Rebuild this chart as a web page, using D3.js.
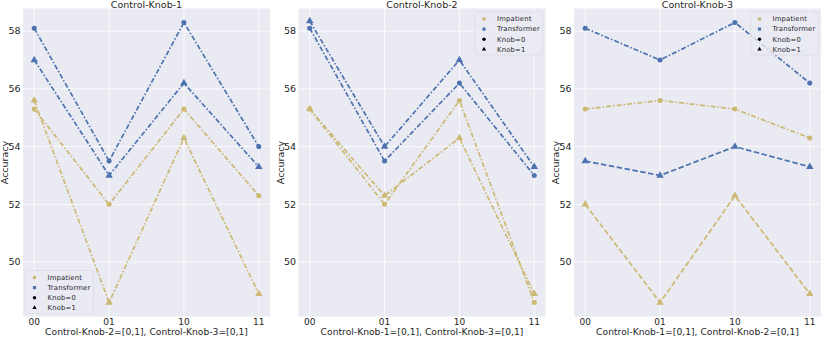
<!DOCTYPE html>
<html>
<head>
<meta charset="utf-8">
<script src="https://cdn.jsdelivr.net/npm/d3@7"></script>
<style>
  body { margin: 0; background: #fff; }
  text { font-family: "DejaVu Sans", sans-serif; fill: #262626; }
</style>
</head>
<body>
<div id="chart"></div>
<script>
// tick labels and panel text
const xTicks = ["00", "01", "10", "11"];
const yTicks = [50, 52, 54, 56, 58];
const titles = ["Control-Knob-1", "Control-Knob-2", "Control-Knob-3"];
const xTitles = [
  "Control-Knob-2=[0,1], Control-Knob-3=[0,1]",
  "Control-Knob-1=[0,1], Control-Knob-3=[0,1]",
  "Control-Knob-1=[0,1], Control-Knob-2=[0,1]"
];

// accuracy values, one array per model / knob value / panel
const impKnob0 = [
  [55.3, 52.0, 55.3, 52.3],
  [55.3, 52.0, 55.6, 48.6],
  [55.3, 55.6, 55.3, 54.3]
];
const impKnob1 = [
  [55.6, 48.6, 54.3, 48.9],
  [55.3, 52.3, 54.3, 48.9],
  [52.0, 48.6, 52.3, 48.9]
];
const trfKnob0 = [
  [58.1, 53.5, 58.3, 54.0],
  [58.1, 53.5, 56.2, 53.0],
  [58.1, 57.0, 58.3, 56.2]
];
const trfKnob1 = [
  [57.0, 53.0, 56.2, 53.3],
  [58.35, 54.0, 57.0, 53.3],
  [53.5, 53.0, 54.0, 53.3]
];

const width = 822, height = 337;
const gold = "#ccb974", blue = "#4c72b0";
const dashDot = "5,2,1.5,2", dashed = "5.5,2.5";
const panelW = 247, plotTop = 8.5, plotBottom = 316.5;
const lefts = [23, 298.5, 574];
const knob1Dash = [dashDot, dashDot, dashed];
const legendAt = ["bottomleft", "topright", "topright"];

const svg = d3.select("#chart").append("svg")
  .attr("width", width)
  .attr("height", height);

const y = d3.scaleLinear().domain([48.115, 58.785]).range([plotBottom, plotTop]);

titles.forEach((title, p) => {
  const L = lefts[p];
  const x = d3.scaleLinear().domain([-0.15, 3.15]).range([L, L + panelW]);
  const g = svg.append("g");

  g.append("rect")
    .attr("x", L).attr("y", plotTop)
    .attr("width", panelW).attr("height", plotBottom - plotTop)
    .attr("fill", "#eaeaf2");

  // grid
  g.selectAll(".gy").data(yTicks).enter().append("line")
    .attr("x1", L).attr("x2", L + panelW)
    .attr("y1", d => y(d)).attr("y2", d => y(d))
    .attr("stroke", "#fff").attr("stroke-width", 0.8);
  g.selectAll(".gx").data(xTicks).enter().append("line")
    .attr("x1", (d, i) => x(i)).attr("x2", (d, i) => x(i))
    .attr("y1", plotTop).attr("y2", plotBottom)
    .attr("stroke", "#fff").attr("stroke-width", 0.8);

  // tick labels
  g.selectAll(".ty").data(yTicks).enter().append("text")
    .attr("x", L - 2.5).attr("y", d => y(d))
    .attr("text-anchor", "end").attr("dy", "0.35em")
    .attr("font-size", 9.5).attr("fill", "#3a3a3a").text(d => d);
  g.selectAll(".tx").data(xTicks).enter().append("text")
    .attr("x", (d, i) => x(i)).attr("y", 325)
    .attr("text-anchor", "middle")
    .attr("font-size", 9).attr("fill", "#3a3a3a").text(d => d);

  g.append("text")
    .attr("x", L + panelW / 2).attr("y", 335)
    .attr("text-anchor", "middle").attr("font-size", 9.2)
    .text(xTitles[p]);
  g.append("text")
    .attr("x", L + panelW / 2).attr("y", 7.5)
    .attr("text-anchor", "middle").attr("font-size", 9.5)
    .text(title);
  g.append("text")
    .attr("transform", `translate(${L - 15},${(plotTop + plotBottom) / 2}) rotate(-90)`)
    .attr("text-anchor", "middle").attr("font-size", 9.5)
    .text("Accuracy");

  const series = [
    { vals: impKnob0[p], color: gold, dash: dashDot, marker: "circle" },
    { vals: impKnob1[p], color: gold, dash: knob1Dash[p], marker: "triangle" },
    { vals: trfKnob0[p], color: blue, dash: dashDot, marker: "circle" },
    { vals: trfKnob1[p], color: blue, dash: knob1Dash[p], marker: "triangle" }
  ];

  const line = d3.line().x((d, i) => x(i)).y(d => y(d));

  series.forEach(s => {
    g.append("path")
      .attr("d", line(s.vals))
      .attr("fill", "none")
      .attr("stroke", s.color)
      .attr("stroke-width", 1.7)
      .attr("stroke-dasharray", s.dash);

    const sym = d3.symbol()
      .type(s.marker === "circle" ? d3.symbolCircle : d3.symbolTriangle)
      .size(s.marker === "circle" ? 20 : 24);
    g.selectAll(null).data(s.vals).enter().append("path")
      .attr("d", sym)
      .attr("transform", (d, i) => `translate(${x(i)},${y(d)})`)
      .attr("fill", s.color);
  });

  // legend
  const bw = 68, bh = 43;
  const bx = legendAt[p] === "bottomleft" ? L + 2.5 : L + panelW - bw - 2.5;
  const by = legendAt[p] === "bottomleft" ? plotBottom - bh - 3 : plotTop + 3.5;
  const lg = g.append("g").attr("transform", `translate(${bx},${by})`);
  lg.append("rect")
    .attr("width", bw).attr("height", bh).attr("rx", 2.5)
    .attr("fill", "#eaeaf2").attr("fill-opacity", 0.8)
    .attr("stroke", "#dcdce4").attr("stroke-width", 0.8);

  const items = [
    { label: "Impatient", color: gold, type: d3.symbolSquare, size: 10 },
    { label: "Transformer", color: blue, type: d3.symbolSquare, size: 10 },
    { label: "Knob=0", color: "#000", type: d3.symbolCircle, size: 9 },
    { label: "Knob=1", color: "#000", type: d3.symbolTriangle, size: 8 }
  ];
  items.forEach((it, i) => {
    const ry = 7 + i * 10.1;
    lg.append("path")
      .attr("d", d3.symbol().type(it.type).size(it.size))
      .attr("transform", `translate(9,${ry})`)
      .attr("fill", it.color);
    lg.append("text")
      .attr("x", 22).attr("y", ry).attr("dy", "0.35em")
      .attr("font-size", 6.8).attr("letter-spacing", 0.2).text(it.label);
  });
});
</script>
</body>
</html>
